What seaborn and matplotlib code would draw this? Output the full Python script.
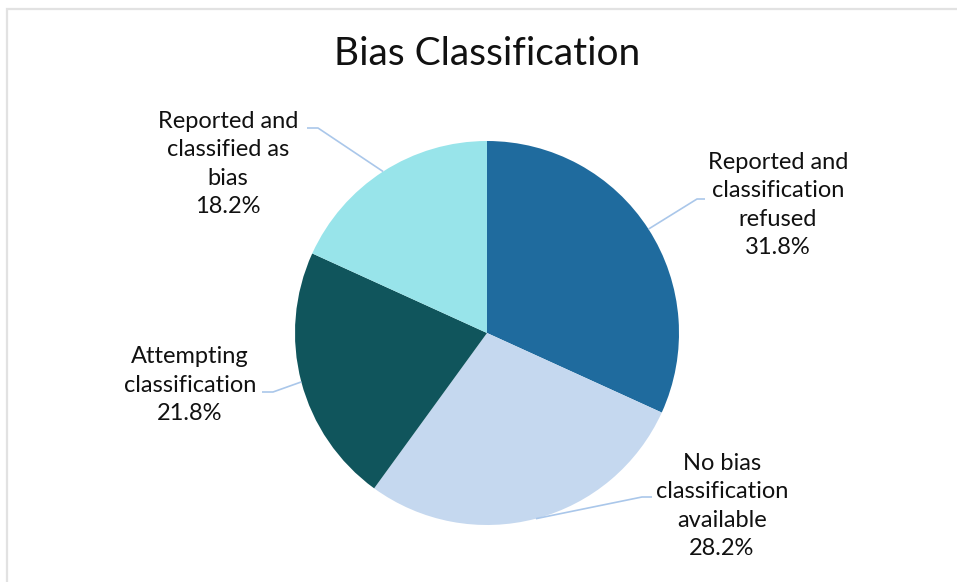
import matplotlib
matplotlib.use("Agg")
import matplotlib.pyplot as plt
import seaborn as sns
import numpy as np

# ---- data ----
categories = ["Reported and\nclassification\nrefused",
              "No bias\nclassification\navailable",
              "Attempting\nclassification",
              "Reported and\nclassified as\nbias"]
values = [31.8, 28.2, 21.8, 18.2]
colors = ["#1f6b9e", "#c5d8ef", "#10555c", "#98e4ea"]
title = "Bias Classification"

sns.set_theme(style="white")
plt.rcParams['font.family'] = ['Lato', 'DejaVu Sans']

W, H = 957, 582
fig = plt.figure(figsize=(W / 100, H / 100), dpi=100)
ax = fig.add_axes([0, 0, 1, 1])

cx, cy, r = 487, H - 333, 192
wedges, _ = ax.pie(values, colors=colors, startangle=90, counterclock=False,
                   center=(cx, cy), radius=r, frame=True,
                   wedgeprops=dict(linewidth=0))
ax.set_xlim(0, W)
ax.set_ylim(0, H)
ax.set_aspect("equal")
ax.axis("off")

# label layout: text centre, elbow point, line end (pixel coords, y from top)
layout = [
    dict(text=(778, 205), elbow=(697, 199), end=(705, 199)),
    dict(text=(722, 506), elbow=(642, 497), end=(652, 497)),
    dict(text=(190, 385), elbow=(273, 392), end=(262, 392)),
    dict(text=(228, 164), elbow=(318, 128), end=(307, 128)),
]
line_col = "#aac7ea"
for w, cat, val, lay in zip(wedges, categories, values, layout):
    mid = np.deg2rad((w.theta1 + w.theta2) / 2)
    ax_, ay_ = cx + r * np.cos(mid), cy + r * np.sin(mid)
    ex, ey = lay["elbow"]
    nx, ny = lay["end"]
    ax.plot([ax_, ex, nx], [ay_, H - ey, H - ny], color=line_col, lw=1.2,
            solid_capstyle="butt", zorder=1)
    tx, ty = lay["text"]
    ax.text(tx, H - ty, f"{cat}\n{val:.1f}%", ha="center", va="center",
            fontsize=17, color="#111111", linespacing=1.45)

ax.text(487, H - 54, title, ha="center", va="center", fontsize=28,
        color="#111111")

# chart frame
fig.patches.append(plt.Rectangle((7 / W, -0.1), 1.2, (H - 9) / H + 0.1,
                                 transform=fig.transFigure, fill=False,
                                 edgecolor="#e2e2e2", lw=1.6))

fig.savefig("out.png", dpi=100, facecolor="white")
